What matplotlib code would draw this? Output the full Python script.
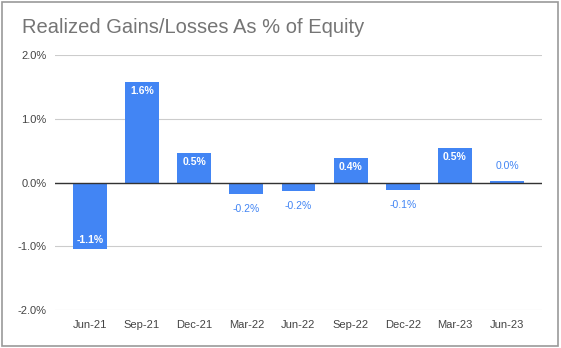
import matplotlib.pyplot as plt
from matplotlib.patches import Rectangle

plt.rcParams['font.family'] = ['Liberation Sans', 'DejaVu Sans']

quarters = ['Jun-21', 'Sep-21', 'Dec-21', 'Mar-22', 'Jun-22', 'Sep-22', 'Dec-22', 'Mar-23', 'Jun-23']
values = [-1.04, 1.575, 0.47, -0.18, -0.14, 0.38, -0.11, 0.54, 0.02]
labels = ['-1.1%', '1.6%', '0.5%', '-0.2%', '-0.2%', '0.4%', '-0.1%', '0.5%', '0.0%']
yticks = [-2, -1, 0, 1, 2]

blue = '#4285f4'

fig = plt.figure(figsize=(5.61, 3.48), dpi=100)
ax = fig.add_axes([0.098, 0.109, 0.868, 0.733])

x = list(range(len(quarters)))
ax.bar(x, values, width=0.65, color=blue, zorder=2)

# data labels: white inside the big bars, blue outside the small ones
for i, (v, lab) in enumerate(zip(values, labels)):
    if abs(v) >= 0.3:
        off = -9 if v > 0 else 9
        ax.annotate(lab, (i, v), xytext=(0, off), textcoords='offset pixels',
                    ha='center', va='center', color='white', fontsize=7.5, fontweight='bold')
    else:
        off = 15 if v >= 0 else -15
        ax.annotate(lab, (i, v), xytext=(0, off), textcoords='offset pixels',
                    ha='center', va='center', color=blue, fontsize=7.5)

ax.set_xlim(-0.67, 8.67)
ax.set_ylim(-2, 2)
ax.set_yticks(yticks)
ax.set_yticklabels([f'{t:.1f}%' for t in yticks])
ax.set_xticks(x)
ax.set_xticklabels(quarters)
ax.tick_params(axis='both', length=0, labelsize=8, colors='#444444')
ax.tick_params(axis='y', pad=6)
ax.tick_params(axis='x', pad=7)
ax.grid(axis='y', color='#cccccc', linewidth=0.8, zorder=0)
ax.axhline(0, color='#333333', linewidth=1, zorder=3)
for s in ax.spines.values():
    s.set_visible(False)

fig.text(0.039, 0.92, 'Realized Gains/Losses As % of Equity', fontsize=14.5,
         color='#757575', ha='left', va='center')

fig.patches.append(Rectangle((0.004, 0.006), 0.991, 0.988, transform=fig.transFigure,
                             fill=False, edgecolor='#999999', linewidth=1.2))

fig.savefig('out.png', dpi=100)
